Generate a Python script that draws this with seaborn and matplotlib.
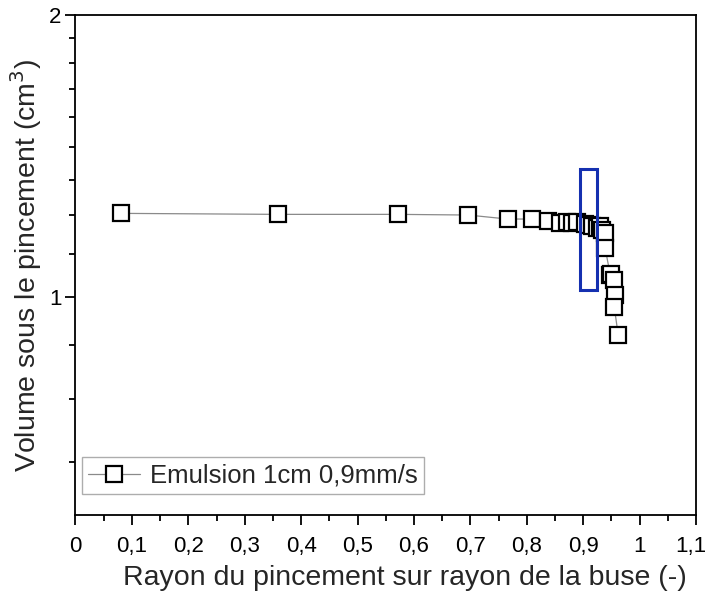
import pandas as pd
import matplotlib
matplotlib.use("Agg")
import matplotlib.pyplot as plt
import matplotlib.ticker as mticker
import matplotlib.transforms as mtransforms
from matplotlib.patches import Rectangle
import seaborn as sns

# values
rayon = [0.081, 0.359, 0.572, 0.696, 0.766, 0.809, 0.838, 0.859, 0.871, 0.880,
         0.889, 0.903, 0.910, 0.915, 0.924, 0.930, 0.933, 0.938, 0.939, 0.948,
         0.950, 0.954, 0.957, 0.955, 0.962]
volume = [1.228, 1.225, 1.225, 1.223, 1.211, 1.211, 1.206, 1.198, 1.203, 1.200,
          1.202, 1.197, 1.192, 1.189, 1.186, 1.190, 1.179, 1.170, 1.127, 1.055,
          1.058, 1.043, 1.005, 0.976, 0.911]
serie = "Emulsion 1cm 0,9mm/s"

x_ticks = [0, 0.1, 0.2, 0.3, 0.4, 0.5, 0.6, 0.7, 0.8, 0.9, 1.0, 1.1]
x_tick_labels = ["0", "0,1", "0,2", "0,3", "0,4", "0,5", "0,6", "0,7", "0,8", "0,9", "1", "1,1"]
y_ticks = [1, 2]
y_tick_labels = ["1", "2"]
y_minor = [2 / 3, 7 / 9, 8 / 9] + [1 + k / 9 for k in range(1, 9)]

# zone highlighted in blue
zone_x = (0.894, 0.925)
zone_y = (1.017, 1.37)

df = pd.DataFrame({"rayon": rayon, "volume": volume})

sns.set_theme(style="ticks")
plt.rcParams["font.family"] = ["Liberation Sans", "DejaVu Sans"]

fig = plt.figure(figsize=(7.08, 5.97), dpi=100)
ax = fig.add_axes([0.1066, 0.1374, 0.8765, 0.8375])

sns.lineplot(data=df, x="rayon", y="volume", sort=False, ax=ax,
             color="#8a8a8a", linewidth=0.9, marker="s", markersize=12,
             markerfacecolor="white", markeredgecolor="black",
             markeredgewidth=1.6, label=serie)

ax.add_patch(Rectangle((zone_x[0], zone_y[0]), zone_x[1] - zone_x[0],
                       zone_y[1] - zone_y[0], fill=False,
                       edgecolor="#1530b0", linewidth=2.2, zorder=5))

ax.set_yscale("log", base=2)
ax.set_xlim(0, 1.1)
ax.set_ylim(0.585, 2)

ax.set_xticks(x_ticks)
ax.set_xticklabels(x_tick_labels)
ax.xaxis.set_minor_locator(mticker.MultipleLocator(0.05))
ax.set_yticks(y_ticks)
ax.set_yticklabels(y_tick_labels)
ax.yaxis.set_minor_locator(mticker.FixedLocator(y_minor))
ax.yaxis.set_minor_formatter(mticker.NullFormatter())

ax.tick_params(which="major", direction="out", length=7, width=1.3,
               labelsize=16, color="black", labelcolor="black")
ax.tick_params(axis="x", which="major", pad=8)
ax.tick_params(axis="y", which="major", pad=3)
ax.tick_params(which="minor", direction="out", length=4, width=1.3,
               color="black")
for side in ["left", "bottom", "top", "right"]:
    ax.spines[side].set_linewidth(1.3)
    ax.spines[side].set_color("black")

# last tick label sits on the figure edge: nudge it a few pixels inside
last = ax.get_xticklabels()[-1]
last.set_transform(last.get_transform() +
                   mtransforms.ScaledTranslation(-5 / 100, 0, fig.dpi_scale_trans))

ax.set_xlabel("Rayon du pincement sur rayon de la buse (-)", fontsize=20.5)
ax.set_ylabel("Volume sous le pincement (cm$^3$)", fontsize=20.5)
ax.xaxis.set_label_coords(0.531, -0.1)
ax.yaxis.set_label_coords(-0.05, 0.5)

leg = ax.legend(loc="lower left", bbox_to_anchor=(0.0105, 0.042), fontsize=18.5,
                frameon=True, fancybox=False, edgecolor="#999999",
                borderaxespad=0, handlelength=2.0, borderpad=0.25,
                handletextpad=0.4)
leg.get_frame().set_linewidth(1.0)

fig.savefig("out.png", dpi=100)
